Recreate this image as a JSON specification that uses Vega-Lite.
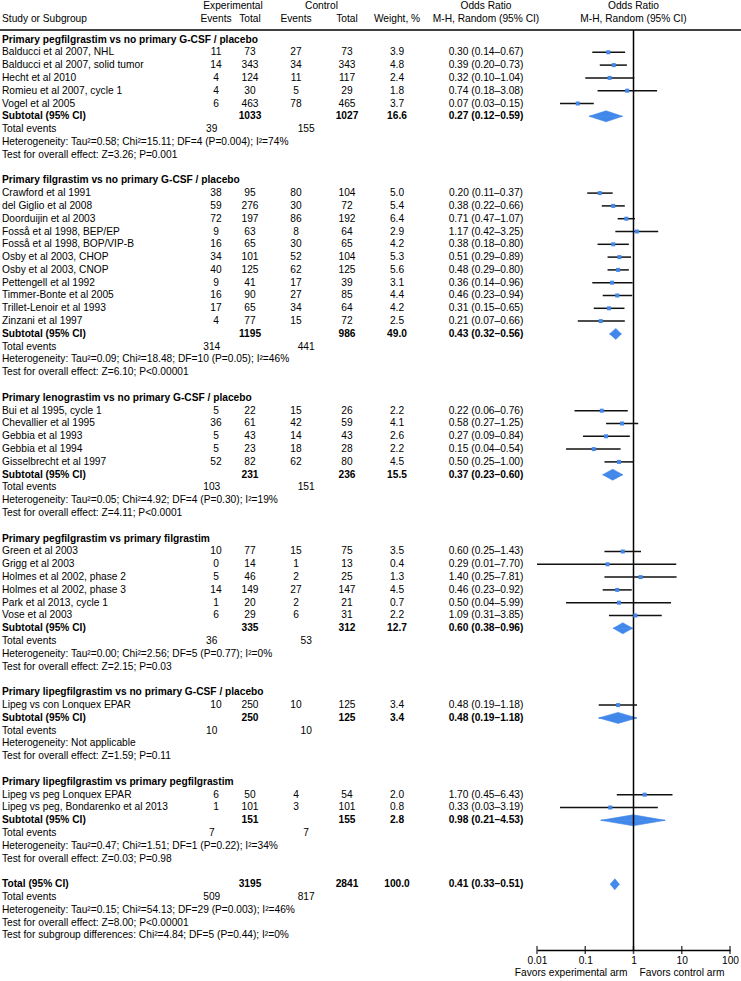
{
  "$schema": "https://vega.github.io/schema/vega-lite/v6.json",
  "width": 741,
  "height": 950,
  "autosize": {"type": "none"},
  "padding": {"left": 0, "right": 0, "top": 0, "bottom": 31},
  "background": "white",
  "config": {
    "view": {"stroke": null},
    "font": "Liberation Sans",
    "text": {"fontSize": 10.2, "color": "#000", "baseline": "middle", "font": "Liberation Sans"},
    "axis": {"labelFont": "Liberation Sans"}
  },
  "datasets": {
    "rows": [
      {"row": 0, "type": "group", "label": "Primary pegfilgrastim vs no primary G-CSF / placebo"},
      {"row": 1, "type": "study", "label": "Balducci et al 2007, NHL", "ee": 11, "et": 73, "ce": 27, "ct": 73, "w": 3.9, "or": 0.30, "lo": 0.14, "hi": 0.67, "ci": "0.30 (0.14–0.67)"},
      {"row": 2, "type": "study", "label": "Balducci et al 2007, solid tumor", "ee": 14, "et": 343, "ce": 34, "ct": 343, "w": 4.8, "or": 0.39, "lo": 0.20, "hi": 0.73, "ci": "0.39 (0.20–0.73)"},
      {"row": 3, "type": "study", "label": "Hecht et al 2010", "ee": 4, "et": 124, "ce": 11, "ct": 117, "w": 2.4, "or": 0.32, "lo": 0.10, "hi": 1.04, "ci": "0.32 (0.10–1.04)"},
      {"row": 4, "type": "study", "label": "Romieu et al 2007, cycle 1", "ee": 4, "et": 30, "ce": 5, "ct": 29, "w": 1.8, "or": 0.74, "lo": 0.18, "hi": 3.08, "ci": "0.74 (0.18–3.08)"},
      {"row": 5, "type": "study", "label": "Vogel et al 2005", "ee": 6, "et": 463, "ce": 78, "ct": 465, "w": 3.7, "or": 0.07, "lo": 0.03, "hi": 0.15, "ci": "0.07 (0.03–0.15)"},
      {"row": 6, "type": "subtotal", "label": "Subtotal (95% CI)", "et": 1033, "ct": 1027, "w": 16.6, "or": 0.27, "lo": 0.12, "hi": 0.59, "ci": "0.27 (0.12–0.59)"},
      {"row": 7, "type": "events", "label": "Total events", "te": 39, "tc": 155},
      {"row": 8, "type": "note", "label": "Heterogeneity: Tau²=0.58; Chi²=15.11; DF=4 (P=0.004); I²=74%"},
      {"row": 9, "type": "note", "label": "Test for overall effect: Z=3.26; P=0.001"},
      {"row": 11, "type": "group", "label": "Primary filgrastim vs no primary G-CSF / placebo"},
      {"row": 12, "type": "study", "label": "Crawford et al 1991", "ee": 38, "et": 95, "ce": 80, "ct": 104, "w": 5.0, "or": 0.20, "lo": 0.11, "hi": 0.37, "ci": "0.20 (0.11–0.37)"},
      {"row": 13, "type": "study", "label": "del Giglio et al 2008", "ee": 59, "et": 276, "ce": 30, "ct": 72, "w": 5.4, "or": 0.38, "lo": 0.22, "hi": 0.66, "ci": "0.38 (0.22–0.66)"},
      {"row": 14, "type": "study", "label": "Doorduijin et al 2003", "ee": 72, "et": 197, "ce": 86, "ct": 192, "w": 6.4, "or": 0.71, "lo": 0.47, "hi": 1.07, "ci": "0.71 (0.47–1.07)"},
      {"row": 15, "type": "study", "label": "Fosså et al 1998, BEP/EP", "ee": 9, "et": 63, "ce": 8, "ct": 64, "w": 2.9, "or": 1.17, "lo": 0.42, "hi": 3.25, "ci": "1.17 (0.42–3.25)"},
      {"row": 16, "type": "study", "label": "Fosså et al 1998, BOP/VIP-B", "ee": 16, "et": 65, "ce": 30, "ct": 65, "w": 4.2, "or": 0.38, "lo": 0.18, "hi": 0.80, "ci": "0.38 (0.18–0.80)"},
      {"row": 17, "type": "study", "label": "Osby et al 2003, CHOP", "ee": 34, "et": 101, "ce": 52, "ct": 104, "w": 5.3, "or": 0.51, "lo": 0.29, "hi": 0.89, "ci": "0.51 (0.29–0.89)"},
      {"row": 18, "type": "study", "label": "Osby et al 2003, CNOP", "ee": 40, "et": 125, "ce": 62, "ct": 125, "w": 5.6, "or": 0.48, "lo": 0.29, "hi": 0.80, "ci": "0.48 (0.29–0.80)"},
      {"row": 19, "type": "study", "label": "Pettengell et al 1992", "ee": 9, "et": 41, "ce": 17, "ct": 39, "w": 3.1, "or": 0.36, "lo": 0.14, "hi": 0.96, "ci": "0.36 (0.14–0.96)"},
      {"row": 20, "type": "study", "label": "Timmer-Bonte et al 2005", "ee": 16, "et": 90, "ce": 27, "ct": 85, "w": 4.4, "or": 0.46, "lo": 0.23, "hi": 0.94, "ci": "0.46 (0.23–0.94)"},
      {"row": 21, "type": "study", "label": "Trillet-Lenoir et al 1993", "ee": 17, "et": 65, "ce": 34, "ct": 64, "w": 4.2, "or": 0.31, "lo": 0.15, "hi": 0.65, "ci": "0.31 (0.15–0.65)"},
      {"row": 22, "type": "study", "label": "Zinzani et al 1997", "ee": 4, "et": 77, "ce": 15, "ct": 72, "w": 2.5, "or": 0.21, "lo": 0.07, "hi": 0.66, "ci": "0.21 (0.07–0.66)"},
      {"row": 23, "type": "subtotal", "label": "Subtotal (95% CI)", "et": 1195, "ct": 986, "w": 49.0, "or": 0.43, "lo": 0.32, "hi": 0.56, "ci": "0.43 (0.32–0.56)"},
      {"row": 24, "type": "events", "label": "Total events", "te": 314, "tc": 441},
      {"row": 25, "type": "note", "label": "Heterogeneity: Tau²=0.09; Chi²=18.48; DF=10 (P=0.05); I²=46%"},
      {"row": 26, "type": "note", "label": "Test for overall effect: Z=6.10; P<0.00001"},
      {"row": 28, "type": "group", "label": "Primary lenograstim vs no primary G-CSF / placebo"},
      {"row": 29, "type": "study", "label": "Bui et al 1995, cycle 1", "ee": 5, "et": 22, "ce": 15, "ct": 26, "w": 2.2, "or": 0.22, "lo": 0.06, "hi": 0.76, "ci": "0.22 (0.06–0.76)"},
      {"row": 30, "type": "study", "label": "Chevallier et al 1995", "ee": 36, "et": 61, "ce": 42, "ct": 59, "w": 4.1, "or": 0.58, "lo": 0.27, "hi": 1.25, "ci": "0.58 (0.27–1.25)"},
      {"row": 31, "type": "study", "label": "Gebbia et al 1993", "ee": 5, "et": 43, "ce": 14, "ct": 43, "w": 2.6, "or": 0.27, "lo": 0.09, "hi": 0.84, "ci": "0.27 (0.09–0.84)"},
      {"row": 32, "type": "study", "label": "Gebbia et al 1994", "ee": 5, "et": 23, "ce": 18, "ct": 28, "w": 2.2, "or": 0.15, "lo": 0.04, "hi": 0.54, "ci": "0.15 (0.04–0.54)"},
      {"row": 33, "type": "study", "label": "Gisselbrecht et al 1997", "ee": 52, "et": 82, "ce": 62, "ct": 80, "w": 4.5, "or": 0.50, "lo": 0.25, "hi": 1.00, "ci": "0.50 (0.25–1.00)"},
      {"row": 34, "type": "subtotal", "label": "Subtotal (95% CI)", "et": 231, "ct": 236, "w": 15.5, "or": 0.37, "lo": 0.23, "hi": 0.60, "ci": "0.37 (0.23–0.60)"},
      {"row": 35, "type": "events", "label": "Total events", "te": 103, "tc": 151},
      {"row": 36, "type": "note", "label": "Heterogeneity: Tau²=0.05; Chi²=4.92; DF=4 (P=0.30); I²=19%"},
      {"row": 37, "type": "note", "label": "Test for overall effect: Z=4.11; P<0.0001"},
      {"row": 39, "type": "group", "label": "Primary pegfilgrastim vs primary filgrastim"},
      {"row": 40, "type": "study", "label": "Green et al 2003", "ee": 10, "et": 77, "ce": 15, "ct": 75, "w": 3.5, "or": 0.60, "lo": 0.25, "hi": 1.43, "ci": "0.60 (0.25–1.43)"},
      {"row": 41, "type": "study", "label": "Grigg et al 2003", "ee": 0, "et": 14, "ce": 1, "ct": 13, "w": 0.4, "or": 0.29, "lo": 0.01, "hi": 7.70, "ci": "0.29 (0.01–7.70)"},
      {"row": 42, "type": "study", "label": "Holmes et al 2002, phase 2", "ee": 5, "et": 46, "ce": 2, "ct": 25, "w": 1.3, "or": 1.40, "lo": 0.25, "hi": 7.81, "ci": "1.40 (0.25–7.81)"},
      {"row": 43, "type": "study", "label": "Holmes et al 2002, phase 3", "ee": 14, "et": 149, "ce": 27, "ct": 147, "w": 4.5, "or": 0.46, "lo": 0.23, "hi": 0.92, "ci": "0.46 (0.23–0.92)"},
      {"row": 44, "type": "study", "label": "Park et al 2013, cycle 1", "ee": 1, "et": 20, "ce": 2, "ct": 21, "w": 0.7, "or": 0.50, "lo": 0.04, "hi": 5.99, "ci": "0.50 (0.04–5.99)"},
      {"row": 45, "type": "study", "label": "Vose et al 2003", "ee": 6, "et": 29, "ce": 6, "ct": 31, "w": 2.2, "or": 1.09, "lo": 0.31, "hi": 3.85, "ci": "1.09 (0.31–3.85)"},
      {"row": 46, "type": "subtotal", "label": "Subtotal (95% CI)", "et": 335, "ct": 312, "w": 12.7, "or": 0.60, "lo": 0.38, "hi": 0.96, "ci": "0.60 (0.38–0.96)"},
      {"row": 47, "type": "events", "label": "Total events", "te": 36, "tc": 53},
      {"row": 48, "type": "note", "label": "Heterogeneity: Tau²=0.00; Chi²=2.56; DF=5 (P=0.77); I²=0%"},
      {"row": 49, "type": "note", "label": "Test for overall effect: Z=2.15; P=0.03"},
      {"row": 51, "type": "group", "label": "Primary lipegfilgrastim vs no primary G-CSF / placebo"},
      {"row": 52, "type": "study", "label": "Lipeg vs con Lonquex EPAR", "ee": 10, "et": 250, "ce": 10, "ct": 125, "w": 3.4, "or": 0.48, "lo": 0.19, "hi": 1.18, "ci": "0.48 (0.19–1.18)"},
      {"row": 53, "type": "subtotal", "label": "Subtotal (95% CI)", "et": 250, "ct": 125, "w": 3.4, "or": 0.48, "lo": 0.19, "hi": 1.18, "ci": "0.48 (0.19–1.18)"},
      {"row": 54, "type": "events", "label": "Total events", "te": 10, "tc": 10},
      {"row": 55, "type": "note", "label": "Heterogeneity: Not applicable"},
      {"row": 56, "type": "note", "label": "Test for overall effect: Z=1.59; P=0.11"},
      {"row": 58, "type": "group", "label": "Primary lipegfilgrastim vs primary pegfilgrastim"},
      {"row": 59, "type": "study", "label": "Lipeg vs peg Lonquex EPAR", "ee": 6, "et": 50, "ce": 4, "ct": 54, "w": 2.0, "or": 1.70, "lo": 0.45, "hi": 6.43, "ci": "1.70 (0.45–6.43)"},
      {"row": 60, "type": "study", "label": "Lipeg vs peg, Bondarenko et al 2013", "ee": 1, "et": 101, "ce": 3, "ct": 101, "w": 0.8, "or": 0.33, "lo": 0.03, "hi": 3.19, "ci": "0.33 (0.03–3.19)"},
      {"row": 61, "type": "subtotal", "label": "Subtotal (95% CI)", "et": 151, "ct": 155, "w": 2.8, "or": 0.98, "lo": 0.21, "hi": 4.53, "ci": "0.98 (0.21–4.53)"},
      {"row": 62, "type": "events", "label": "Total events", "te": 7, "tc": 7},
      {"row": 63, "type": "note", "label": "Heterogeneity: Tau²=0.47; Chi²=1.51; DF=1 (P=0.22); I²=34%"},
      {"row": 64, "type": "note", "label": "Test for overall effect: Z=0.03; P=0.98"},
      {"row": 66, "type": "total", "label": "Total (95% CI)", "et": 3195, "ct": 2841, "w": 100.0, "or": 0.41, "lo": 0.33, "hi": 0.51, "ci": "0.41 (0.33–0.51)"},
      {"row": 67, "type": "events", "label": "Total events", "te": 509, "tc": 817},
      {"row": 68, "type": "note", "label": "Heterogeneity: Tau²=0.15; Chi²=54.13; DF=29 (P=0.003); I²=46%"},
      {"row": 69, "type": "note", "label": "Test for overall effect: Z=8.00; P<0.00001"},
      {"row": 70, "type": "note", "label": "Test for subgroup differences: Chi²=4.84; DF=5 (P=0.44); I²=0%"}
    ],
    "headers": [
      {"row": -2, "key": "exp", "text": "Experimental"},
      {"row": -2, "key": "ctl", "text": "Control"},
      {"row": -2, "key": "ci", "text": "Odds Ratio"},
      {"row": -2, "key": "plot", "text": "Odds Ratio"},
      {"row": -1, "key": "study", "text": "Study or Subgroup"},
      {"row": -1, "key": "ee", "text": "Events"},
      {"row": -1, "key": "et", "text": "Total"},
      {"row": -1, "key": "ce", "text": "Events"},
      {"row": -1, "key": "ct", "text": "Total"},
      {"row": -1, "key": "w", "text": "Weight, %"},
      {"row": -1, "key": "ci", "text": "M-H, Random (95% CI)"},
      {"row": -1, "key": "plot", "text": "M-H, Random (95% CI)"}
    ],
    "diamond": [
      {"pt": "lo", "hu": 0, "hd": 0},
      {"pt": "or", "hu": 1, "hd": -1},
      {"pt": "hi", "hu": 0, "hd": 0}
    ],
    "axisticks": [{"v": 0.01}, {"v": 0.1}, {"v": 1}, {"v": 10}, {"v": 100}],
    "captions": [
      {"side": "left", "text": "Favors experimental arm"},
      {"side": "right", "text": "Favors control arm"}
    ]
  },
  "layer": [
    {
      "layer": [
        {
          "data": {"values": [{}]},
          "mark": {"type": "rule", "strokeWidth": 1.5, "color": "#000"},
          "encoding": {
            "y": {"datum": -0.742, "type": "quantitative", "scale": {"domain": [-3.086, 71.133], "reverse": true, "nice": false, "zero": false}, "axis": null}
          }
        },
        {
          "data": {"name": "headers"},
          "transform": [{"filter": "datum.key === 'study'"}],
          "mark": {"type": "text", "align": "left", "dx": 2, "dy": -8},
          "encoding": {
            "x": {"value": 0},
            "y": {"field": "row", "type": "quantitative", "scale": {"domain": [-3.086, 71.133], "reverse": true, "nice": false, "zero": false}, "axis": null},
            "text": {"field": "text"}
          }
        },
        {
          "data": {"name": "rows"},
          "transform": [{"filter": "datum.type === 'study' || datum.type === 'events' || datum.type === 'note'"}],
          "mark": {"type": "text", "align": "left", "dx": 2},
          "encoding": {
            "x": {"value": 0},
            "y": {"field": "row", "type": "quantitative", "scale": {"domain": [-3.086, 71.133], "reverse": true, "nice": false, "zero": false}, "axis": null},
            "text": {"field": "label"}
          }
        },
        {
          "data": {"name": "rows"},
          "transform": [{"filter": "datum.type === 'group' || datum.type === 'subtotal' || datum.type === 'total'"}],
          "mark": {"type": "text", "align": "left", "dx": 2, "fontWeight": "bold"},
          "encoding": {
            "x": {"value": 0},
            "y": {"field": "row", "type": "quantitative", "scale": {"domain": [-3.086, 71.133], "reverse": true, "nice": false, "zero": false}, "axis": null},
            "text": {"field": "label"}
          }
        }
      ]
    },
    {
      "layer": [
        {
          "data": {"name": "headers"},
          "transform": [{"filter": "datum.key === 'exp' || datum.key === 'ee' || datum.key === 'et'"}],
          "mark": {"type": "text", "align": "center", "dy": -8},
          "encoding": {
            "x": {"field": "key", "type": "nominal", "scale": {"type": "point", "domain": ["te", "ee", "a1", "a2", "a3", "exp", "a4", "a5", "a6", "et"], "range": [211.75, 250], "padding": 0}, "axis": null},
            "y": {"field": "row", "type": "quantitative", "scale": {"domain": [-3.086, 71.133], "reverse": true, "nice": false, "zero": false}, "axis": null},
            "text": {"field": "text"}
          }
        },
        {
          "data": {"name": "rows"},
          "transform": [
            {"filter": "datum.type === 'study' || datum.type === 'events'"},
            {"fold": ["te", "ee", "et"], "as": ["key", "value"]},
            {"filter": "isValid(datum.value)"}
          ],
          "mark": {"type": "text", "align": "center"},
          "encoding": {
            "x": {"field": "key", "type": "nominal", "scale": {"type": "point", "domain": ["te", "ee", "a1", "a2", "a3", "exp", "a4", "a5", "a6", "et"], "range": [211.75, 250], "padding": 0}, "axis": null},
            "y": {"field": "row", "type": "quantitative", "scale": {"domain": [-3.086, 71.133], "reverse": true, "nice": false, "zero": false}, "axis": null},
            "text": {"field": "value"}
          }
        },
        {
          "data": {"name": "rows"},
          "transform": [{"filter": "datum.type === 'subtotal' || datum.type === 'total'"}],
          "mark": {"type": "text", "align": "center", "fontWeight": "bold"},
          "encoding": {
            "x": {"datum": "et", "type": "nominal", "scale": {"type": "point", "domain": ["te", "ee", "a1", "a2", "a3", "exp", "a4", "a5", "a6", "et"], "range": [211.75, 250], "padding": 0}, "axis": null},
            "y": {"field": "row", "type": "quantitative", "scale": {"domain": [-3.086, 71.133], "reverse": true, "nice": false, "zero": false}, "axis": null},
            "text": {"field": "et"}
          }
        }
      ]
    },
    {
      "layer": [
        {
          "data": {"name": "headers"},
          "transform": [{"filter": "datum.key === 'ctl' || datum.key === 'ce' || datum.key === 'ct'"}],
          "mark": {"type": "text", "align": "center", "dy": -8},
          "encoding": {
            "x": {"field": "key", "type": "nominal", "scale": {"type": "point", "domain": ["ce", "b1", "tc", "b2", "b3", "ctl", "b4", "b5", "b6", "b7", "ct"], "range": [296, 347], "padding": 0}, "axis": null},
            "y": {"field": "row", "type": "quantitative", "scale": {"domain": [-3.086, 71.133], "reverse": true, "nice": false, "zero": false}, "axis": null},
            "text": {"field": "text"}
          }
        },
        {
          "data": {"name": "rows"},
          "transform": [
            {"filter": "datum.type === 'study' || datum.type === 'events'"},
            {"fold": ["ce", "tc", "ct"], "as": ["key", "value"]},
            {"filter": "isValid(datum.value)"}
          ],
          "mark": {"type": "text", "align": "center"},
          "encoding": {
            "x": {"field": "key", "type": "nominal", "scale": {"type": "point", "domain": ["ce", "b1", "tc", "b2", "b3", "ctl", "b4", "b5", "b6", "b7", "ct"], "range": [296, 347], "padding": 0}, "axis": null},
            "y": {"field": "row", "type": "quantitative", "scale": {"domain": [-3.086, 71.133], "reverse": true, "nice": false, "zero": false}, "axis": null},
            "text": {"field": "value"}
          }
        },
        {
          "data": {"name": "rows"},
          "transform": [{"filter": "datum.type === 'subtotal' || datum.type === 'total'"}],
          "mark": {"type": "text", "align": "center", "fontWeight": "bold"},
          "encoding": {
            "x": {"datum": "ct", "type": "nominal", "scale": {"type": "point", "domain": ["ce", "b1", "tc", "b2", "b3", "ctl", "b4", "b5", "b6", "b7", "ct"], "range": [296, 347], "padding": 0}, "axis": null},
            "y": {"field": "row", "type": "quantitative", "scale": {"domain": [-3.086, 71.133], "reverse": true, "nice": false, "zero": false}, "axis": null},
            "text": {"field": "ct"}
          }
        }
      ]
    },
    {
      "layer": [
        {
          "data": {"name": "headers"},
          "transform": [{"filter": "datum.key === 'w' || datum.key === 'ci'"}],
          "mark": {"type": "text", "align": "center", "dy": -8},
          "encoding": {
            "x": {"field": "key", "type": "nominal", "scale": {"type": "point", "domain": ["w", "ci"], "range": [397, 486], "padding": 0}, "axis": null},
            "y": {"field": "row", "type": "quantitative", "scale": {"domain": [-3.086, 71.133], "reverse": true, "nice": false, "zero": false}, "axis": null},
            "text": {"field": "text"}
          }
        },
        {
          "data": {"name": "rows"},
          "transform": [{"filter": "datum.type === 'study'"}],
          "mark": {"type": "text", "align": "center"},
          "encoding": {
            "x": {"datum": "w", "type": "nominal", "scale": {"type": "point", "domain": ["w", "ci"], "range": [397, 486], "padding": 0}, "axis": null},
            "y": {"field": "row", "type": "quantitative", "scale": {"domain": [-3.086, 71.133], "reverse": true, "nice": false, "zero": false}, "axis": null},
            "text": {"field": "w", "type": "quantitative", "format": ".1f"}
          }
        },
        {
          "data": {"name": "rows"},
          "transform": [{"filter": "datum.type === 'subtotal' || datum.type === 'total'"}],
          "mark": {"type": "text", "align": "center", "fontWeight": "bold"},
          "encoding": {
            "x": {"datum": "w", "type": "nominal", "scale": {"type": "point", "domain": ["w", "ci"], "range": [397, 486], "padding": 0}, "axis": null},
            "y": {"field": "row", "type": "quantitative", "scale": {"domain": [-3.086, 71.133], "reverse": true, "nice": false, "zero": false}, "axis": null},
            "text": {"field": "w", "type": "quantitative", "format": ".1f"}
          }
        },
        {
          "data": {"name": "rows"},
          "transform": [{"filter": "datum.type === 'study'"}],
          "mark": {"type": "text", "align": "center"},
          "encoding": {
            "x": {"datum": "ci", "type": "nominal", "scale": {"type": "point", "domain": ["w", "ci"], "range": [397, 486], "padding": 0}, "axis": null},
            "y": {"field": "row", "type": "quantitative", "scale": {"domain": [-3.086, 71.133], "reverse": true, "nice": false, "zero": false}, "axis": null},
            "text": {"field": "ci"}
          }
        },
        {
          "data": {"name": "rows"},
          "transform": [{"filter": "datum.type === 'subtotal' || datum.type === 'total'"}],
          "mark": {"type": "text", "align": "center", "fontWeight": "bold"},
          "encoding": {
            "x": {"datum": "ci", "type": "nominal", "scale": {"type": "point", "domain": ["w", "ci"], "range": [397, 486], "padding": 0}, "axis": null},
            "y": {"field": "row", "type": "quantitative", "scale": {"domain": [-3.086, 71.133], "reverse": true, "nice": false, "zero": false}, "axis": null},
            "text": {"field": "ci"}
          }
        }
      ]
    },
    {
      "layer": [
        {
          "data": {"name": "rows"},
          "transform": [
            {"filter": "datum.type === 'subtotal' || datum.type === 'total'"},
            {"fold": ["lo", "or", "hi"], "as": ["pt", "xv"]},
            {"lookup": "pt", "from": {"data": {"name": "diamond"}, "key": "pt", "fields": ["hu"]}}
          ],
          "mark": {"type": "line", "interpolate": "linear-closed", "fill": "#4287ea", "stroke": "#4287ea", "strokeWidth": 0.6, "opacity": 1},
          "encoding": {
            "x": {"field": "xv", "type": "quantitative", "scale": {"type": "log", "domain": [0.01, 100], "range": [537, 730]}, "axis": null},
            "y": {"field": "row", "type": "ordinal", "scale": {"type": "point", "domain": [-3, -2, -1, 0, 1, 2, 3, 4, 5, 6, 7, 8, 9, 10, 11, 12, 13, 14, 15, 16, 17, 18, 19, 20, 21, 22, 23, 24, 25, 26, 27, 28, 29, 30, 31, 32, 33, 34, 35, 36, 37, 38, 39, 40, 41, 42, 43, 44, 45, 46, 47, 48, 49, 50, 51, 52, 53, 54, 55, 56, 57, 58, 59, 60, 61, 62, 63, 64, 65, 66, 67, 68, 69, 70, 71], "range": [1.1, 948.3], "padding": 0}, "axis": null},
            "yOffset": {"field": "hu", "type": "quantitative", "scale": {"domain": [-1, 1], "range": [5.5, -5.5]}},
            "detail": {"field": "row", "type": "nominal"},
            "order": {"field": "xv", "type": "quantitative"}
          }
        },
        {
          "data": {"name": "rows"},
          "transform": [
            {"filter": "datum.type === 'subtotal' || datum.type === 'total'"},
            {"fold": ["lo", "or", "hi"], "as": ["pt", "xv"]},
            {"lookup": "pt", "from": {"data": {"name": "diamond"}, "key": "pt", "fields": ["hd"]}}
          ],
          "mark": {"type": "line", "interpolate": "linear-closed", "fill": "#4287ea", "stroke": "#4287ea", "strokeWidth": 0.6, "opacity": 1},
          "encoding": {
            "x": {"field": "xv", "type": "quantitative", "scale": {"type": "log", "domain": [0.01, 100], "range": [537, 730]}, "axis": null},
            "y": {"field": "row", "type": "ordinal", "scale": {"type": "point", "domain": [-3, -2, -1, 0, 1, 2, 3, 4, 5, 6, 7, 8, 9, 10, 11, 12, 13, 14, 15, 16, 17, 18, 19, 20, 21, 22, 23, 24, 25, 26, 27, 28, 29, 30, 31, 32, 33, 34, 35, 36, 37, 38, 39, 40, 41, 42, 43, 44, 45, 46, 47, 48, 49, 50, 51, 52, 53, 54, 55, 56, 57, 58, 59, 60, 61, 62, 63, 64, 65, 66, 67, 68, 69, 70, 71], "range": [1.1, 948.3], "padding": 0}, "axis": null},
            "yOffset": {"field": "hd", "type": "quantitative", "scale": {"domain": [-1, 1], "range": [5.5, -5.5]}},
            "detail": {"field": "row", "type": "nominal"},
            "order": {"field": "xv", "type": "quantitative"}
          }
        }
      ]
    },
    {
      "layer": [
        {
          "data": {"values": [{}]},
          "mark": {"type": "rule", "strokeWidth": 1.5, "color": "#000"},
          "encoding": {
            "x": {"datum": 1, "type": "quantitative", "scale": {"type": "log", "domain": [0.01, 100], "range": [537, 730]}, "axis": {"values": [0.01, 0.1, 1, 10, 100], "format": "~g", "title": null, "ticks": false, "grid": false, "domainColor": "#000", "domainWidth": 1.5, "labelFontSize": 10.2, "labelColor": "#000", "labelPadding": 5, "labelFlush": false, "labelOverlap": false}},
            "y": {"datum": -0.742, "type": "quantitative", "scale": {"domain": [-3.086, 71.133], "reverse": true, "nice": false, "zero": false}, "axis": null},
            "y2": {"datum": 71.133}
          }
        },
        {
          "data": {"name": "rows"},
          "transform": [{"filter": "datum.type === 'study'"}],
          "mark": {"type": "rule", "strokeWidth": 1.5, "color": "#111"},
          "encoding": {
            "x": {"field": "lo", "type": "quantitative", "scale": {"type": "log", "domain": [0.01, 100], "range": [537, 730]}, "axis": {"values": [0.01, 0.1, 1, 10, 100], "format": "~g", "title": null, "ticks": false, "grid": false, "domainColor": "#000", "domainWidth": 1.5, "labelFontSize": 10.2, "labelColor": "#000", "labelPadding": 5, "labelFlush": false, "labelOverlap": false}},
            "x2": {"field": "hi"},
            "y": {"field": "row", "type": "quantitative", "scale": {"domain": [-3.086, 71.133], "reverse": true, "nice": false, "zero": false}, "axis": null}
          }
        },
        {
          "data": {"name": "rows"},
          "transform": [{"filter": "datum.type === 'study'"}],
          "mark": {"type": "square", "size": 16, "filled": true, "color": "#4287ea", "opacity": 1},
          "encoding": {
            "x": {"field": "or", "type": "quantitative", "scale": {"type": "log", "domain": [0.01, 100], "range": [537, 730]}, "axis": {"values": [0.01, 0.1, 1, 10, 100], "format": "~g", "title": null, "ticks": false, "grid": false, "domainColor": "#000", "domainWidth": 1.5, "labelFontSize": 10.2, "labelColor": "#000", "labelPadding": 5, "labelFlush": false, "labelOverlap": false}},
            "y": {"field": "row", "type": "quantitative", "scale": {"domain": [-3.086, 71.133], "reverse": true, "nice": false, "zero": false}, "axis": null}
          }
        },
        {
          "data": {"name": "axisticks"},
          "mark": {"type": "tick", "orient": "vertical", "size": 8, "thickness": 1.5, "color": "#000"},
          "encoding": {
            "x": {"field": "v", "type": "quantitative", "scale": {"type": "log", "domain": [0.01, 100], "range": [537, 730]}, "axis": {"values": [0.01, 0.1, 1, 10, 100], "format": "~g", "title": null, "ticks": false, "grid": false, "domainColor": "#000", "domainWidth": 1.5, "labelFontSize": 10.2, "labelColor": "#000", "labelPadding": 5, "labelFlush": false, "labelOverlap": false}},
            "y": {"datum": 71.133, "type": "quantitative", "scale": {"domain": [-3.086, 71.133], "reverse": true, "nice": false, "zero": false}, "axis": null}
          }
        },
        {
          "data": {"name": "headers"},
          "transform": [{"filter": "datum.key === 'plot'"}],
          "mark": {"type": "text", "align": "center", "dy": -8},
          "encoding": {
            "x": {"datum": 1, "type": "quantitative", "scale": {"type": "log", "domain": [0.01, 100], "range": [537, 730]}},
            "y": {"field": "row", "type": "quantitative", "scale": {"domain": [-3.086, 71.133], "reverse": true, "nice": false, "zero": false}, "axis": null},
            "text": {"field": "text"}
          }
        },
        {
          "data": {"name": "captions"},
          "transform": [{"filter": "datum.side === 'left'"}],
          "mark": {"type": "text", "align": "right", "dx": -6},
          "encoding": {
            "x": {"datum": 1, "type": "quantitative", "scale": {"type": "log", "domain": [0.01, 100], "range": [537, 730]}},
            "y": {"datum": 72.93, "type": "quantitative", "scale": {"domain": [-3.086, 71.133], "reverse": true, "nice": false, "zero": false}, "axis": null},
            "text": {"field": "text"}
          }
        },
        {
          "data": {"name": "captions"},
          "transform": [{"filter": "datum.side === 'right'"}],
          "mark": {"type": "text", "align": "left", "dx": 6},
          "encoding": {
            "x": {"datum": 1, "type": "quantitative", "scale": {"type": "log", "domain": [0.01, 100], "range": [537, 730]}},
            "y": {"datum": 72.93, "type": "quantitative", "scale": {"domain": [-3.086, 71.133], "reverse": true, "nice": false, "zero": false}, "axis": null},
            "text": {"field": "text"}
          }
        }
      ]
    }
  ],
  "resolve": {"scale": {"x": "independent", "y": "independent"}, "axis": {"x": "independent"}}
}
